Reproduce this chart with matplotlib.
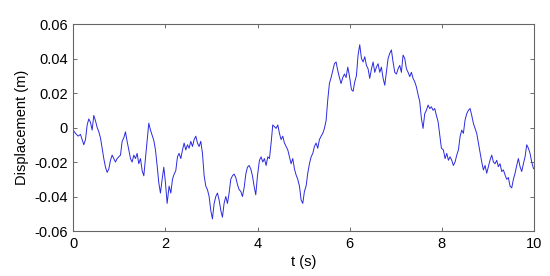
import matplotlib
matplotlib.use("Agg")
import matplotlib.pyplot as plt

t_s = [
    0.000, 0.051, 0.108, 0.159, 0.195, 0.231, 0.268, 0.304, 0.340, 0.376,
    0.412, 0.448, 0.484, 0.521, 0.557, 0.593, 0.629, 0.665, 0.701, 0.738,
    0.774, 0.810, 0.846, 0.882, 0.918, 0.954, 0.991, 1.027, 1.063, 1.099,
    1.135, 1.171, 1.208, 1.244, 1.280, 1.316, 1.352, 1.388, 1.424, 1.461,
    1.497, 1.533, 1.569, 1.605, 1.641, 1.678, 1.714, 1.750, 1.786, 1.822,
    1.858, 1.894, 1.931, 1.967, 2.003, 2.039,
    2.082, 2.119, 2.155, 2.191, 2.227, 2.263, 2.299, 2.336, 2.372, 2.408,
    2.444, 2.480, 2.516, 2.552, 2.589, 2.625, 2.661, 2.697, 2.733, 2.769,
    2.806, 2.842, 2.878, 2.914, 2.950, 2.986, 3.022, 3.059, 3.095, 3.131,
    3.167, 3.203, 3.239, 3.275, 3.312, 3.348, 3.384, 3.420, 3.456, 3.492,
    3.529, 3.565, 3.601, 3.637, 3.673, 3.709, 3.746, 3.782, 3.818, 3.854,
    3.890, 3.926, 3.962, 3.999,
    4.042, 4.078, 4.114, 4.150, 4.187, 4.223, 4.259, 4.295, 4.331, 4.367,
    4.403, 4.440, 4.476, 4.512, 4.548, 4.584, 4.620, 4.657, 4.693, 4.729,
    4.765, 4.801, 4.837, 4.873, 4.910, 4.946, 4.982, 5.018, 5.054, 5.090,
    5.127, 5.163, 5.199, 5.235, 5.271, 5.307, 5.343, 5.380, 5.416, 5.452,
    5.488, 5.524, 5.560, 5.597, 5.633, 5.669, 5.705, 5.741, 5.777, 5.813,
    5.850, 5.886, 5.922, 5.958, 5.994,
    6.038, 6.074, 6.110, 6.146, 6.182, 6.218, 6.255, 6.291, 6.327, 6.363,
    6.399, 6.435, 6.472, 6.508, 6.544, 6.580, 6.616, 6.652, 6.688, 6.725,
    6.761, 6.797, 6.833, 6.869, 6.905, 6.941, 6.978, 7.014, 7.050, 7.086,
    7.122, 7.158, 7.195, 7.231, 7.267, 7.303, 7.339, 7.375, 7.412, 7.448,
    7.484, 7.520, 7.556, 7.592, 7.628, 7.664, 7.701, 7.737, 7.773, 7.809,
    7.845, 7.881, 7.918, 7.954, 7.990,
    8.033, 8.069, 8.106, 8.142, 8.178, 8.214, 8.250, 8.286, 8.323, 8.359,
    8.395, 8.431, 8.467, 8.503, 8.539, 8.576, 8.612, 8.648, 8.684, 8.720,
    8.756, 8.792, 8.829, 8.865, 8.901, 8.937, 8.973, 9.009, 9.046, 9.082,
    9.118, 9.154, 9.190, 9.226, 9.262, 9.299, 9.335, 9.371, 9.407, 9.443,
    9.479, 9.516, 9.552, 9.588, 9.624, 9.660, 9.696, 9.732, 9.769, 9.805,
    9.841, 9.877, 9.913, 9.949, 9.985, 10.000,
]

displacement_m = [
    -0.0015, -0.0034, -0.0050, -0.0040, -0.0070, -0.0100, -0.0070, 0.0015, 0.0050, 0.0030,
    -0.0015, 0.0070, 0.0040, 0.0000, -0.0025, -0.0060, -0.0120, -0.0180, -0.0230, -0.0260,
    -0.0240, -0.0190, -0.0160, -0.0180, -0.0200, -0.0180, -0.0170, -0.0160, -0.0080, -0.0060,
    -0.0025, -0.0080, -0.0130, -0.0180, -0.0200, -0.0160, -0.0180, -0.0150, -0.0210, -0.0180,
    -0.0250, -0.0280, -0.0180, -0.0080, 0.0025, -0.0015, -0.0045, -0.0075, -0.0130, -0.0220,
    -0.0320, -0.0380, -0.0300, -0.0230, -0.0320, -0.0440,
    -0.0340, -0.0380, -0.0300, -0.0270, -0.0250, -0.0170, -0.0150, -0.0180, -0.0130, -0.0090,
    -0.0130, -0.0100, -0.0120, -0.0080, -0.0110, -0.0070, -0.0050, -0.0090, -0.0110, -0.0080,
    -0.0150, -0.0280, -0.0340, -0.0360, -0.0400, -0.0480, -0.0530, -0.0440, -0.0400, -0.0380,
    -0.0420, -0.0480, -0.0520, -0.0440, -0.0400, -0.0440, -0.0380, -0.0300, -0.0280, -0.0270,
    -0.0290, -0.0330, -0.0360, -0.0370, -0.0400, -0.0350, -0.0270, -0.0230, -0.0220, -0.0240,
    -0.0280, -0.0340, -0.0390, -0.0280,
    -0.0190, -0.0170, -0.0200, -0.0180, -0.0220, -0.0170, -0.0180, -0.0090, 0.0015, 0.0005,
    -0.0005, 0.0015, -0.0034, -0.0070, -0.0050, -0.0090, -0.0110, -0.0130, -0.0170, -0.0210,
    -0.0180, -0.0240, -0.0275, -0.0300, -0.0340, -0.0420, -0.0440, -0.0370, -0.0340, -0.0265,
    -0.0210, -0.0170, -0.0150, -0.0110, -0.0090, -0.0120, -0.0070, -0.0050, -0.0034, -0.0005,
    0.0040, 0.0160, 0.0255, 0.0290, 0.0330, 0.0370, 0.0380, 0.0330, 0.0290, 0.0255,
    0.0290, 0.0310, 0.0290, 0.0350, 0.0300,
    0.0220, 0.0210, 0.0265, 0.0300, 0.0420, 0.0480, 0.0400, 0.0380, 0.0410, 0.0360,
    0.0340, 0.0285, 0.0340, 0.0380, 0.0320, 0.0350, 0.0370, 0.0320, 0.0350, 0.0285,
    0.0245, 0.0320, 0.0400, 0.0430, 0.0450, 0.0380, 0.0320, 0.0310, 0.0340, 0.0360,
    0.0320, 0.0420, 0.0400, 0.0340, 0.0320, 0.0295, 0.0320, 0.0285, 0.0265, 0.0235,
    0.0190, 0.0150, 0.0053, -0.0005, 0.0080, 0.0100, 0.0130, 0.0110, 0.0120, 0.0100,
    0.0110, 0.0070, 0.0034, -0.0043, -0.0120,
    -0.0130, -0.0180, -0.0150, -0.0190, -0.0170, -0.0190, -0.0220, -0.0200, -0.0160, -0.0130,
    -0.0053, -0.0015, -0.0034, 0.0043, 0.0080, 0.0100, 0.0110, 0.0070, 0.0024, -0.0005,
    -0.0034, -0.0090, -0.0150, -0.0200, -0.0246, -0.0220, -0.0265, -0.0227, -0.0188, -0.0160,
    -0.0200, -0.0210, -0.0190, -0.0227, -0.0210, -0.0255, -0.0246, -0.0275, -0.0300, -0.0290,
    -0.0340, -0.0350, -0.0300, -0.0265, -0.0220, -0.0180, -0.0227, -0.0255, -0.0210, -0.0170,
    -0.0100, -0.0120, -0.0150, -0.0200, -0.0236, -0.0240,
]

x_ticks = [0, 2, 4, 6, 8, 10]
y_ticks = [-0.06, -0.04, -0.02, 0, 0.02, 0.04, 0.06]
y_tick_labels = ["-0.06", "-0.04", "-0.02", "0", "0.02", "0.04", "0.06"]

plt.rcParams["font.family"] = ["Liberation Sans", "DejaVu Sans"]

fig = plt.figure(figsize=(5.5, 2.76), dpi=100)
ax = fig.add_axes([0.133, 0.163, 0.838, 0.750])

ax.plot(t_s, displacement_m, color="#2a2ae0", linewidth=0.7)

ax.set_xlim(0, 10)
ax.set_ylim(-0.06, 0.06)
ax.set_xticks(x_ticks)
ax.set_xticklabels([str(v) for v in x_ticks])
ax.set_yticks(y_ticks)
ax.set_yticklabels(y_tick_labels)

ax.tick_params(direction="in", length=3, width=0.6, colors="#555555",
               labelcolor="black", labelsize=10.5, top=True, right=True, pad=4)
for s in ax.spines.values():
    s.set_color("#666666")
    s.set_linewidth(0.8)

ax.set_xlabel("t (s)", fontsize=10.5, labelpad=3)
ax.set_ylabel("Displacement (m)", fontsize=10.5, labelpad=4)

fig.savefig("out.png", dpi=100)
